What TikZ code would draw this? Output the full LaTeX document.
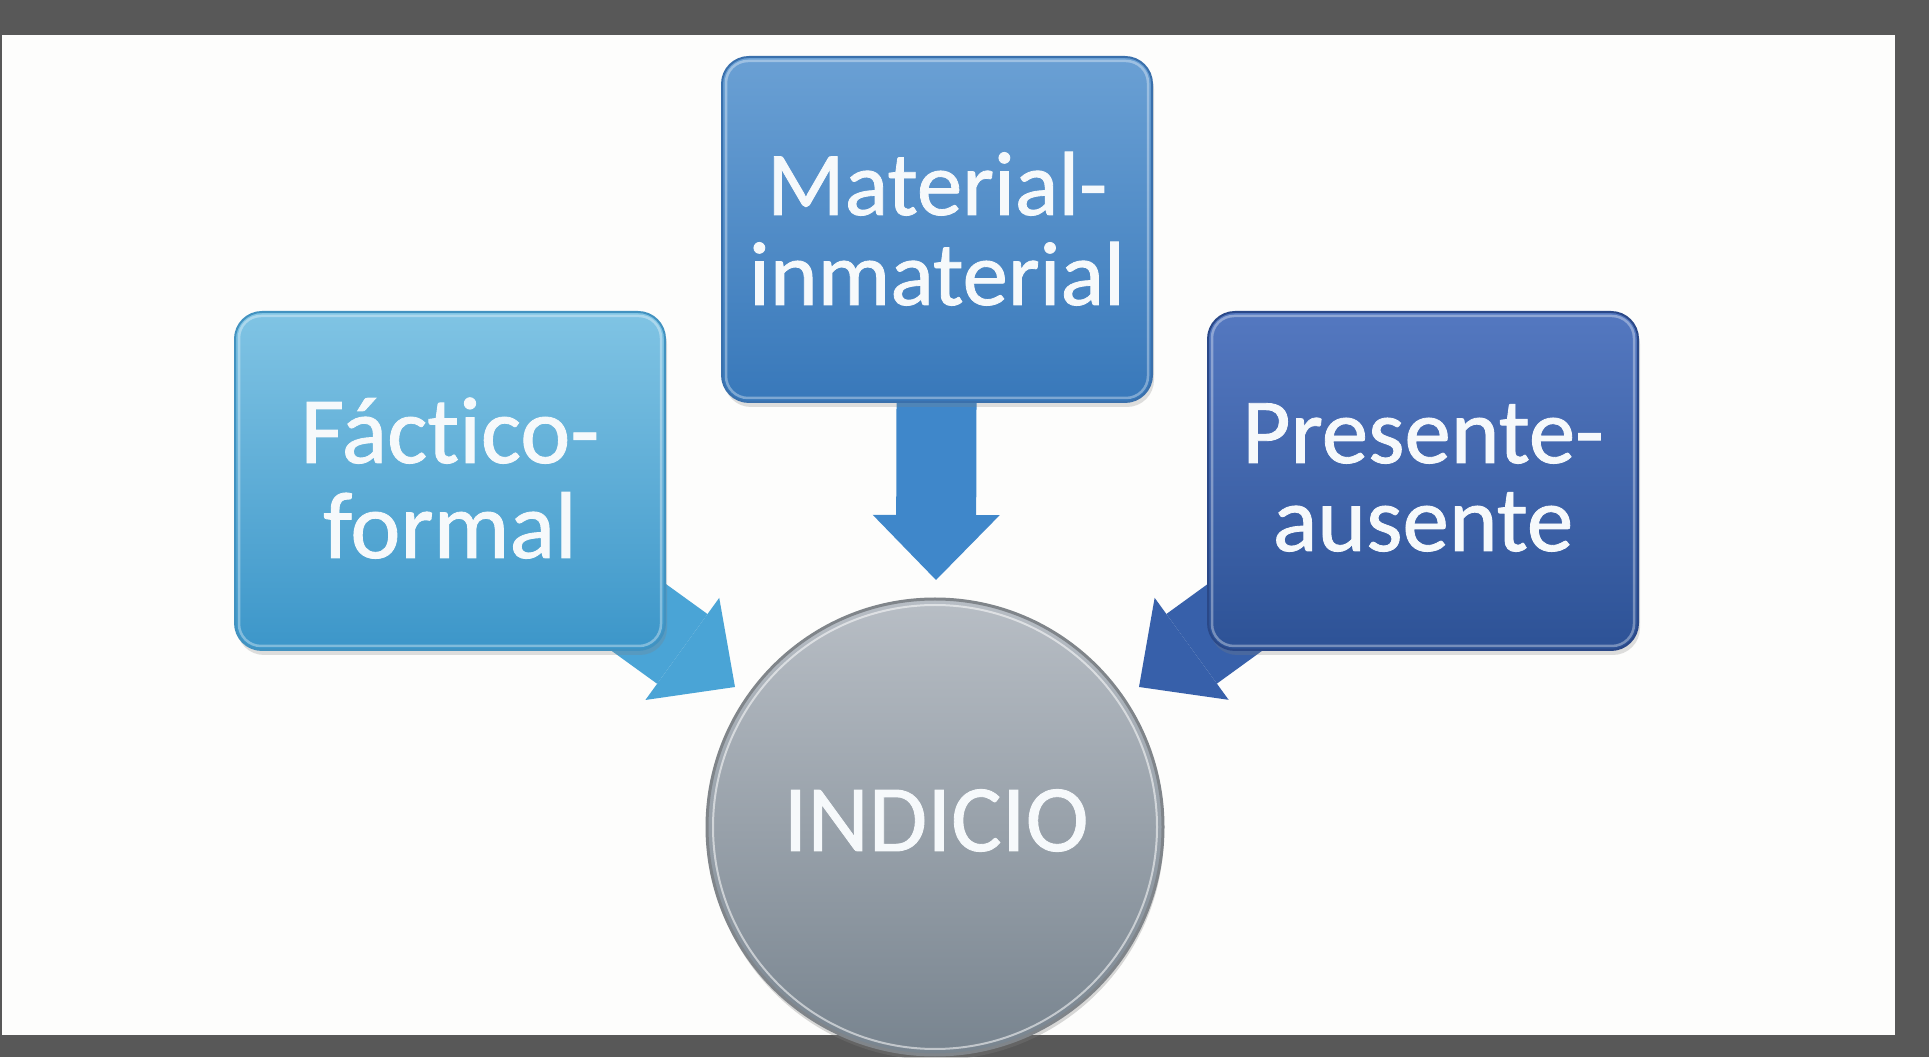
\documentclass[tikz,border=0pt]{standalone}
\usepackage{fontspec}
\setmainfont{Carlito}[Ligatures={NoCommon}]
\newfontfamily\lblfont{Carlito}[Ligatures={NoCommon}, FakeBold=0.9]
\usetikzlibrary{arrows.meta,shadows,calc}
\definecolor{framegray}{RGB}{88,88,88}
\definecolor{paper}{RGB}{253,253,252}
\definecolor{lTop}{RGB}{128,196,228}
\definecolor{lBot}{RGB}{60,150,201}
\definecolor{lEdge}{RGB}{66,146,192}
\definecolor{mTop}{RGB}{106,160,212}
\definecolor{mBot}{RGB}{56,120,186}
\definecolor{mEdge}{RGB}{58,112,172}
\definecolor{rTop}{RGB}{84,120,192}
\definecolor{rBot}{RGB}{45,82,150}
\definecolor{rEdge}{RGB}{42,72,136}
\definecolor{lArr}{RGB}{74,164,214}
\definecolor{mArr}{RGB}{63,135,202}
\definecolor{rArr}{RGB}{55,96,170}
\definecolor{cTop}{RGB}{184,190,197}
\definecolor{cBot}{RGB}{120,132,143}
\definecolor{cEdge}{RGB}{128,133,138}
\definecolor{txt}{RGB}{246,249,251}
\pgfdeclarelayer{bglayer}
\pgfdeclarelayer{arrowlayer}
\pgfsetlayers{bglayer,arrowlayer,main}
\tikzset{
  boxbase/.style={rectangle, rounded corners=27pt, minimum width=430pt,
    minimum height=338pt, inner sep=0pt, line width=2pt,
    drop shadow={shadow xshift=2pt, shadow yshift=-5pt, opacity=0.25}},
  rim/.style={draw=white, opacity=0.35, line width=2.5pt, rounded corners=22pt},
  lbl/.style={text=txt, align=center, inner sep=0pt, anchor=base},
  blockarrow/.style={line width=#1},
  headtip/.style 2 args={-{Triangle[width=#1, length=#2, line width=0pt]}}
}
\begin{document}
\begin{tikzpicture}[x=1pt,y=1pt]
\useasboundingbox (0,0) rectangle (1929,1057);
\begin{pgfonlayer}{bglayer}
  \fill[framegray] (0,0) rectangle (1929,1057);
  \fill[paper] (2,22) rectangle (1895,1022);
\end{pgfonlayer}

% boxes
\node[boxbase, top color=lTop, bottom color=lBot, draw=lEdge] (L) at (450,576) {};
\node[boxbase, top color=mTop, bottom color=mBot, draw=mEdge, minimum height=345pt] (M) at (937,827.5) {};
\node[boxbase, top color=rTop, bottom color=rBot, draw=rEdge] (R) at (1423,576) {};
\draw[rim] ($(L.south west)+(5,5)$) rectangle ($(L.north east)+(-5,-5)$);
\draw[rim] ($(M.south west)+(5,5)$) rectangle ($(M.north east)+(-5,-5)$);
\draw[rim] ($(R.south west)+(5,5)$) rectangle ($(R.north east)+(-5,-5)$);

% circle
\node[circle, minimum size=456pt, inner sep=0pt, top color=cTop, bottom color=cBot,
      draw=cEdge, line width=3pt,
      drop shadow={shadow xshift=1pt, shadow yshift=-5pt, opacity=0.3}] (C) at (935,230) {};
\draw[white, opacity=0.55, line width=2pt] (C.center) circle (222);

% arrow tips
\coordinate (ltip) at (735,370);
\coordinate (mtip) at (936,477);
\coordinate (rtip) at (1139,370);
\begin{pgfonlayer}{arrowlayer}
  \draw[lArr, blockarrow=86pt, headtip={126pt}{65pt}] (L.center) -- (ltip);
  \draw[mArr, blockarrow=80pt, headtip={127pt}{65pt}] (M.center) -- (mtip);
  \draw[rArr, blockarrow=86pt, headtip={126pt}{65pt}] (R.center) -- (rtip);
\end{pgfonlayer}

% labels (anchor base = baseline of the last line)
\node[lbl, font=\lblfont\fontsize{95}{95}\selectfont] (Lt) at (450,499) {Fáctico-\\formal};
\node[lbl, font=\lblfont\fontsize{91}{90}\selectfont] (Mt) at (937,752) {Material-\\inmaterial};
\node[lbl, font=\lblfont\fontsize{93}{88}\selectfont] (Rt) at (1423,506) {Presente-\\ausente};
\node[lbl, font=\lblfont\fontsize{95}{95}\selectfont] (Ct) at (936,206) {INDICIO};
\end{tikzpicture}
\end{document}
